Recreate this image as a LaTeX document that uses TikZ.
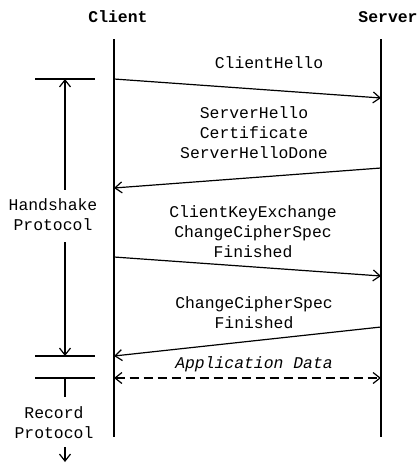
\documentclass[tikz,border=0pt]{standalone}
\usepackage{fontspec}
\setmonofont{Liberation Mono}
\usetikzlibrary{arrows.meta}

\tikzset{
  msgtext/.style={font=\ttfamily\fontsize{16.4}{20}\selectfont, align=center, anchor=base, inner sep=0pt},
  headtext/.style={msgtext, font=\ttfamily\bfseries\fontsize{16.4}{20}\selectfont},
  msgline/.style={->, line width=1.2pt},
  bar/.style={line width=1.2pt},
}

\begin{document}
\begin{tikzpicture}[x=1pt, y=-1pt, >={Straight Barb[length=7pt,width=11pt]}]
    \useasboundingbox (0,0) rectangle (418,463);

    % HEADERS AND LIFELINES
    \node[headtext] (client) at (118,22) {Client};
    \node[headtext] (server) at (388,22) {Server};
    \coordinate (cTop) at (114,39);
    \coordinate (cBot) at (114,437);
    \coordinate (sTop) at (381,39);
    \coordinate (sBot) at (381,437);
    \draw[bar] (cTop) -- (cBot);
    \draw[bar] (sTop) -- (sBot);

    % 1. CLIENT HELLO (base = last line)
    \coordinate (m1a) at (114,79);
    \coordinate (m1b) at (381,98);
    \node[msgtext] (hello) at (269,68) {ClientHello};
    \draw[msgline] (m1a) -- (m1b);

    % 2. SERVER HELLO
    \coordinate (m2a) at (381,168);
    \coordinate (m2b) at (114,188);
    \node[msgtext] (shello) at (254,158) {ServerHello\\Certificate\\ServerHelloDone};
    \draw[msgline] (m2a) -- (m2b);

    % 3. KEY EXCHANGE
    \coordinate (m3a) at (114,257);
    \coordinate (m3b) at (381,276);
    \node[msgtext] (keyx) at (253,257) {ClientKeyExchange\\ChangeCipherSpec\\Finished};
    \draw[msgline] (m3a) -- (m3b);

    % 4. SERVER FINISHED
    \coordinate (m4a) at (381,327);
    \coordinate (m4b) at (114,356);
    \node[msgtext] (sfin) at (254,328) {ChangeCipherSpec\\Finished};
    \draw[msgline] (m4a) -- (m4b);

    % APPLICATION DATA (dashed, both ways)
    \coordinate (m5a) at (114,378);
    \coordinate (m5b) at (381,378);
    \node[msgtext, font=\ttfamily\itshape\fontsize{16.4}{20}\selectfont] (appdata) at (254,368) {Application Data};
    \draw[msgline, <->, dash pattern=on 9pt off 5pt] (m5a) -- (m5b);

    % LEFT BRACKETS
    \coordinate (hsTop) at (65,79);
    \coordinate (hsGapA) at (65,190);
    \coordinate (hsGapB) at (65,242);
    \coordinate (hsBot) at (65,356);
    \coordinate (rcTop) at (65,378);
    \coordinate (rcGapA) at (65,397);
    \coordinate (rcGapB) at (65,447);
    \coordinate (rcEnd) at (65,462);
    \draw[bar] (35,79) -- (95,79);
    \draw[bar] (35,356) -- (95,356);
    \draw[bar] (35,378) -- (95,378);

    \node[msgtext] (handshake) at (53,230) {Handshake\\Protocol};
    \node[msgtext] (record) at (54,438) {Record\\Protocol};

    \draw[msgline, <-] (hsTop) -- (hsGapA);
    \draw[msgline] (hsGapB) -- (hsBot);
    \draw[bar] (rcTop) -- (rcGapA);
    \draw[msgline] (rcGapB) -- (rcEnd);

\end{tikzpicture}
\end{document}
